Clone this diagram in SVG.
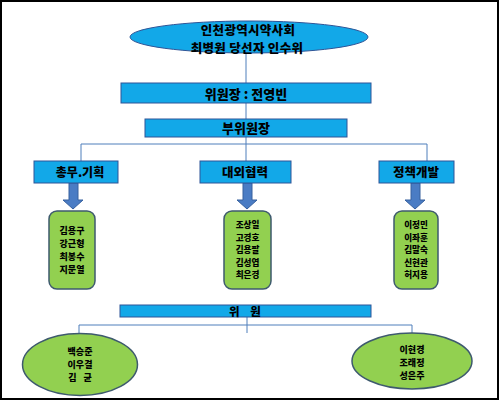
<svg xmlns="http://www.w3.org/2000/svg" width="500" height="402" viewBox="0 0 500 402">
<style>
.t{font-family:"Noto Sans CJK KR","Noto Sans",sans-serif;font-weight:900;fill:#000;text-anchor:middle}
.blue{fill:#12A8E8;stroke:#2F5597;stroke-width:1}
.green{fill:#92D050;stroke:#3E5A6E;stroke-width:1.5}
.arrow{fill:#4A7CC4;stroke:#36609E;stroke-width:1}
.ln{fill:none;stroke:#4F7EBB;stroke-width:1}
</style>
<rect x="0" y="0" width="500" height="402" fill="#fff"/>
<rect x="1" y="1" width="497" height="398" fill="none" stroke="#000" stroke-width="2"/>
<g id="connectors">
<path class="ln" d="M246 53V83M246 103V119M246 137V144M81 144H427M81 144V161M246 144V161M427 144V161"/>
<path class="ln" d="M79 325H412M79 325V333M412 325V333M247 317V333"/>
<path class="arrow" d="M69 183H78V200H83L73 209L63 200H69Z"/>
<path class="arrow" d="M243 183H252V200H257L247 209L237 200H243Z"/>
<path class="arrow" d="M411 183H420V200H425L415 209L405 200H411Z"/>
</g>
<g id="top">
<ellipse class="blue" cx="249" cy="37" rx="119" ry="16"/>
<text class="t" x="248" y="34.5" font-size="12.5" letter-spacing="0.3">인천광역시약사회</text>
<text class="t" x="247" y="52.5" font-size="12.5" letter-spacing="0.3">최병원 당선자 인수위</text>
</g>
<g id="chair">
<rect class="blue" x="121" y="83" width="250" height="20"/>
<text class="t" x="246" y="98.5" font-size="13">위원장 : 전영빈</text>
</g>
<g id="vice">
<rect class="blue" x="145" y="119" width="202" height="18"/>
<text class="t" x="246" y="133" font-size="13">부위원장</text>
</g>
<g id="dept1">
<rect class="blue" x="34" y="161" width="84" height="22"/>
<text class="t" x="80" y="176.5" font-size="12">총무.기획</text>
</g>
<g id="dept2">
<rect class="blue" x="200" y="161" width="91" height="22"/>
<text class="t" x="245" y="176.5" font-size="12.5">대외협력</text>
</g>
<g id="dept3">
<rect class="blue" x="379" y="161" width="75" height="22"/>
<text class="t" x="416" y="176.5" font-size="12.5">정책개발</text>
</g>
<g id="members1">
<rect class="green" x="49" y="211" width="46" height="78" rx="8"/>
<g class="t" font-size="9">
<text x="72" y="234">김용구</text>
<text x="72" y="247">강근형</text>
<text x="72" y="260">최봉수</text>
<text x="72" y="273">지문열</text>
</g>
</g>
<g id="members2">
<rect class="green" x="224" y="211" width="47" height="78" rx="8"/>
<g class="t" font-size="8.6">
<text x="247.5" y="228">조상일</text>
<text x="247.5" y="240.5">고경호</text>
<text x="247.5" y="253">김용팔</text>
<text x="247.5" y="265.5">김성엽</text>
<text x="247.5" y="278">최은경</text>
</g>
</g>
<g id="members3">
<rect class="green" x="394" y="211" width="44" height="78" rx="8"/>
<g class="t" font-size="8.6">
<text x="416" y="228">이정민</text>
<text x="416" y="240.5">이좌훈</text>
<text x="416" y="253">김말숙</text>
<text x="416" y="265.5">신현관</text>
<text x="416" y="278">허지용</text>
</g>
</g>
<g id="committee">
<rect class="blue" x="120" y="305" width="251" height="12"/>
<text class="t" x="245" y="315.5" font-size="11.5" word-spacing="8">위 원</text>
</g>
<g id="group1">
<ellipse class="green" cx="80" cy="364.5" rx="57.5" ry="31"/>
<g class="t" font-size="9">
<text x="80" y="355">백승준</text>
<text x="80" y="368">이우결</text>
<text x="80" y="381" word-spacing="5">김 균</text>
</g>
</g>
<g id="group2">
<ellipse class="green" cx="412" cy="361" rx="60" ry="28"/>
<g class="t" font-size="9">
<text x="412" y="353">이현경</text>
<text x="412" y="366">조래정</text>
<text x="412" y="379">성은주</text>
</g>
</g>
</svg>
